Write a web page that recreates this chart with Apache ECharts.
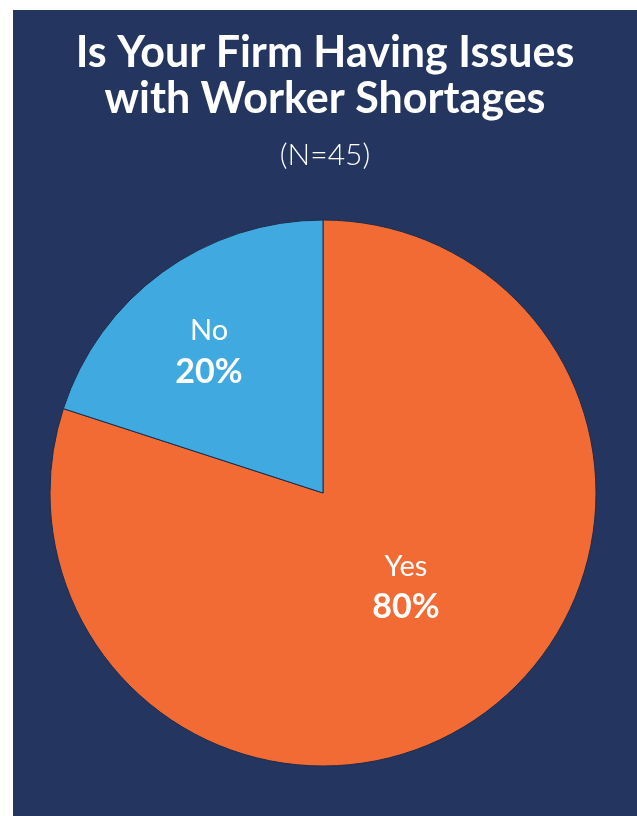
<!DOCTYPE html>
<html>
<head>
<meta charset="utf-8">
<script src="https://cdn.jsdelivr.net/npm/echarts@6/dist/echarts.min.js"></script>
<style>
html, body { margin: 0; padding: 0; background: #ffffff; }
#chart { position: absolute; left: 13px; top: 10px; width: 624px; height: 806px; }
</style>
</head>
<body>
<div id="chart"></div>
<script>
// 数据
var categories = ['Yes', 'No'];
var shares = [80, 20];
var sliceColors = ['#f26b34', '#3fa9e0'];

// 标签微调 (dx, dy)
var labelShift = [[1, -19], [-32, -29]];

var chart = echarts.init(document.getElementById('chart'));
var option = {
    backgroundColor: '#243660',
    title: {
        text: 'Is Your Firm Having Issues\nwith Worker Shortages',
        subtext: '(N=45)',
        left: 'center',
        top: 15,
        itemGap: 18,
        textStyle: {
            color: '#ffffff',
            fontFamily: 'Lato',
            fontWeight: 'bold',
            fontSize: 43,
            lineHeight: 46
        },
        subtextStyle: {
            color: '#ffffff',
            fontFamily: 'Lato',
            fontWeight: 300,
            fontSize: 30
        }
    },
    series: [
        {
            type: 'pie',
            center: [310, 483],
            radius: [0, 273],
            startAngle: 90,
            clockwise: true,
            silent: true,
            itemStyle: {
                borderColor: '#1f2b4a',
                borderWidth: 1
            },
            label: {
                position: 'inside',
                formatter: function (p) {
                    return '{n|' + p.name + '}\n{v|' + p.value + '%}';
                },
                rich: {
                    n: { color: '#ffffff', fontFamily: 'Lato', fontSize: 29, lineHeight: 41 },
                    v: { color: '#ffffff', fontFamily: 'Lato', fontWeight: 'bold', fontSize: 34, lineHeight: 41 }
                }
            },
            labelLine: { show: false },
            labelLayout: function (params) {
                var s = labelShift[params.dataIndex];
                return { dx: s[0], dy: s[1] };
            },
            data: categories.map(function (c, i) {
                return { name: c, value: shares[i], itemStyle: { color: sliceColors[i] } };
            })
        }
    ]
};
chart.setOption(option);
</script>
</body>
</html>
